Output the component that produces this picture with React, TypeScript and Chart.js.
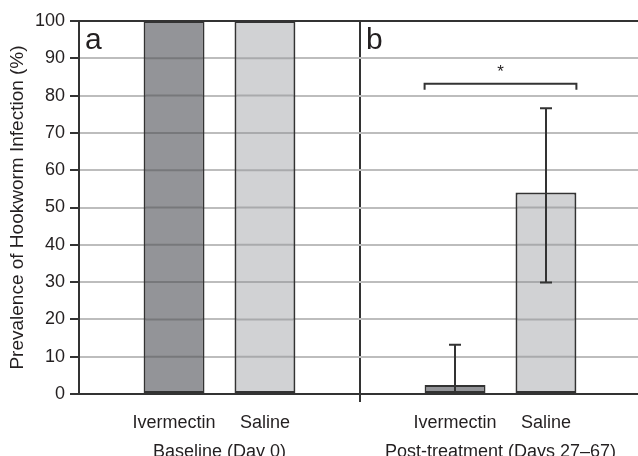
import React, { useEffect, useRef } from 'react';
import { Chart, registerables } from 'chart.js';

Chart.register(...registerables);

const groupLabels = ['Baseline (Day 0)', 'Post-treatment (Days 27–67)'];
const seriesNames = ['Ivermectin', 'Saline'];
const ivermectinValues = [100, 2.4];
const salineValues = [100, 54];
const ivermectinErrLow: (number | null)[] = [null, 0.4];
const ivermectinErrHigh: (number | null)[] = [null, 13.2];
const salineErrLow: (number | null)[] = [null, 29.9];
const salineErrHigh: (number | null)[] = [null, 76.6];
const panelLetters = ['a', 'b'];
const yMin = 0;
const yMax = 100;
const yStep = 10;
const yTitle = 'Prevalence of Hookworm Infection (%)';
const sigGroup = 1;
const sigLevel = 83.2;
const sigEndLevel = 81.6;
const sigMark = '*';

const TEXT = '#231f20';
const DARK = '#333333';
const GRID = '#bdbdbd';
const FONT = "'Liberation Sans', Arial, sans-serif";

const overlayPlugin = {
  id: 'overlay',
  afterDatasetsDraw(chart: any) {
    // grid lines showing through the bars
    const ctx = chart.ctx;
    const ys = chart.scales.y;
    const vals = [ivermectinValues, salineValues];
    ctx.save();
    ctx.strokeStyle = 'rgba(0,0,0,0.19)';
    ctx.lineWidth = 2;
    for (let d = 0; d < 2; d++) {
      const meta = chart.getDatasetMeta(d);
      meta.data.forEach((el: any, j: number) => {
        const left = el.x - el.width / 2 + 2;
        const right = el.x + el.width / 2 - 2;
        ys.ticks.forEach((t: any) => {
          if (t.value <= yMin || t.value >= yMax || t.value >= vals[d][j]) return;
          const y = ys.getPixelForValue(t.value);
          ctx.beginPath();
          ctx.moveTo(left, y);
          ctx.lineTo(right, y);
          ctx.stroke();
        });
      });
    }
    ctx.restore();
  },
  afterDraw(chart: any) {
    const ctx = chart.ctx;
    const xs = chart.scales.x;
    const ys = chart.scales.y;
    const area = chart.chartArea;
    const lows = [ivermectinErrLow, salineErrLow];
    const highs = [ivermectinErrHigh, salineErrHigh];
    ctx.save();
    // error bars
    ctx.strokeStyle = DARK;
    ctx.lineWidth = 2;
    for (let d = 0; d < 2; d++) {
      const meta = chart.getDatasetMeta(d);
      meta.data.forEach((el: any, j: number) => {
        const lo = lows[d][j];
        const hi = highs[d][j];
        if (lo == null || hi == null) return;
        const x = Math.round(el.x);
        const yl = ys.getPixelForValue(lo);
        const yh = ys.getPixelForValue(hi);
        ctx.beginPath();
        ctx.moveTo(x, yl);
        ctx.lineTo(x, yh);
        ctx.moveTo(x - 6, yl);
        ctx.lineTo(x + 6, yl);
        ctx.moveTo(x - 6, yh);
        ctx.lineTo(x + 6, yh);
        ctx.stroke();
      });
    }
    // series labels under bars
    ctx.fillStyle = TEXT;
    ctx.font = `18px ${FONT}`;
    ctx.textAlign = 'center';
    ctx.textBaseline = 'alphabetic';
    for (let d = 0; d < 2; d++) {
      const meta = chart.getDatasetMeta(d);
      meta.data.forEach((el: any) => {
        ctx.fillText(seriesNames[d], el.x, area.bottom + 34);
      });
    }
    // group labels
    groupLabels.forEach((g, j) => {
      ctx.fillText(g, xs.getPixelForValue(j), area.bottom + 63);
    });
    // panel letters
    const catW = (xs.right - xs.left) / groupLabels.length;
    ctx.font = `30px ${FONT}`;
    ctx.textAlign = 'left';
    panelLetters.forEach((p, j) => {
      ctx.fillText(p, xs.left + catW * j + 6, area.top + 28);
    });
    // significance bracket
    const e0 = chart.getDatasetMeta(0).data[sigGroup] as any;
    const e1 = chart.getDatasetMeta(1).data[sigGroup] as any;
    const left = e0.x - e0.width / 2;
    const right = e1.x + e1.width / 2;
    const yb = ys.getPixelForValue(sigLevel);
    const ye = ys.getPixelForValue(sigEndLevel);
    ctx.beginPath();
    ctx.moveTo(left, ye);
    ctx.lineTo(left, yb);
    ctx.lineTo(right, yb);
    ctx.lineTo(right, ye);
    ctx.stroke();
    ctx.font = `17px ${FONT}`;
    ctx.textAlign = 'center';
    ctx.fillText(sigMark, (left + right) / 2, yb - 7);
    ctx.restore();
  },
};

export default function App() {
  const ref = useRef<HTMLCanvasElement>(null);
  useEffect(() => {
    if (!ref.current) return;
    const chart = new Chart(ref.current, {
      type: 'bar',
      data: {
        labels: groupLabels,
        datasets: [
          {
            label: seriesNames[0],
            data: ivermectinValues,
            backgroundColor: '#939498',
            borderColor: DARK,
            borderWidth: 2,
            borderSkipped: false,
            categoryPercentage: 0.647,
            barPercentage: 0.67,
          },
          {
            label: seriesNames[1],
            data: salineValues,
            backgroundColor: '#d1d2d4',
            borderColor: DARK,
            borderWidth: 2,
            borderSkipped: false,
            categoryPercentage: 0.647,
            barPercentage: 0.67,
          },
        ],
      },
      options: {
        responsive: false,
        animation: false,
        layout: { padding: { top: 21, right: 0, left: 0, bottom: 0 } },
        plugins: { legend: { display: false }, tooltip: { enabled: false } },
        scales: {
          x: {
            offset: true,
            grid: {
              offset: true,
              color: (c: any) => (c.index === 1 ? DARK : 'rgba(0,0,0,0)'),
              lineWidth: 2,
              tickLength: 8,
            },
            border: { color: DARK, width: 2 },
            ticks: { display: false },
            afterFit: (s: any) => {
              s.height = 62;
            },
          },
          y: {
            min: yMin,
            max: yMax,
            ticks: {
              stepSize: yStep,
              color: TEXT,
              font: { family: FONT, size: 18 },
              padding: 5,
            },
            grid: {
              color: (c: any) => (c.tick && c.tick.value === yMax ? DARK : GRID),
              tickColor: DARK,
              lineWidth: 2,
              tickWidth: 2,
              tickLength: 9,
            },
            border: { color: DARK, width: 2 },
            title: {
              display: true,
              text: yTitle,
              color: TEXT,
              font: { family: FONT, size: 19 },
              padding: { top: 6, bottom: 0 },
            },
            afterFit: (s: any) => {
              s.width = 79;
            },
          },
        },
      },
      plugins: [overlayPlugin],
    });
    return () => chart.destroy();
  }, []);
  return (
    <div style={{ position: 'fixed', left: 0, top: 0, width: 638, height: 456, overflow: 'hidden', background: '#fff' }}>
      <canvas ref={ref} width={641} height={456} style={{ display: 'block' }} />
    </div>
  );
}
